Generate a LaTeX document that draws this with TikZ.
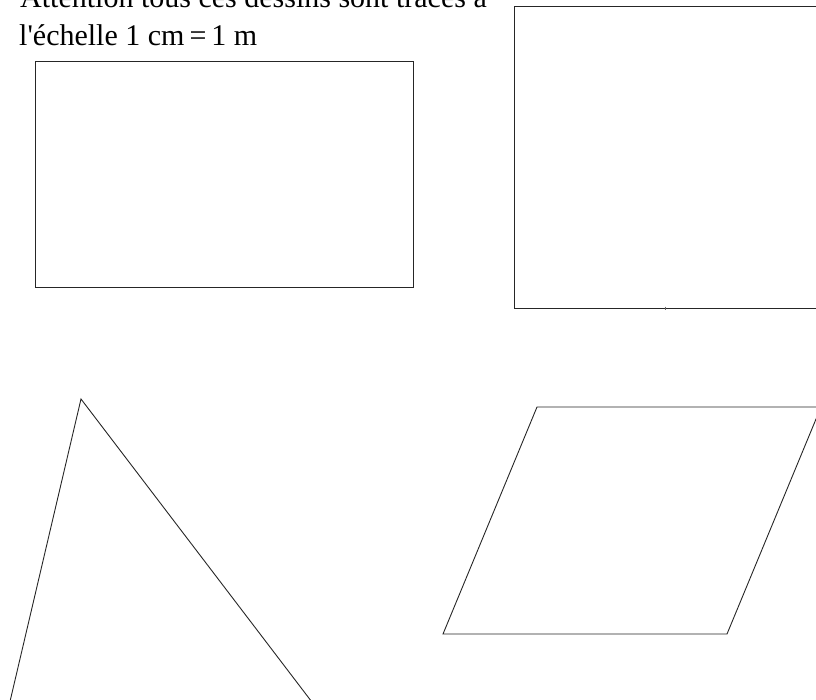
\documentclass[tikz,border=0pt]{standalone}
\usepackage{fontspec}
\setmainfont{Liberation Serif}
\begin{document}
\begin{tikzpicture}[x=1pt,y=-1pt,
  shape line/.style={draw=black!85,line width=0.9pt,line join=miter},
  label text/.style={anchor=base west,inner sep=0pt,font=\fontsize{30}{34}\selectfont}]
\useasboundingbox (0,0) rectangle (816,699);
\clip (0,0) rectangle (816,699);
\node[label text] (l1) at (20,7) {Attention tous ces dessins sont tracés à};
\node[label text] (l2) at (19,45.5) {l\textquotesingle échelle 1 cm\,=\,1 m};
% rectangle
\draw[shape line] (35,61) rectangle (413,287);
% square (cut off at right)
\draw[shape line] (830,6) -- (514,6) -- (514,308) -- (830,308);
\draw[draw=black!60,line width=0.8pt] (665,306.5) -- (665,310);
% triangle (cut off at bottom)
\draw[shape line] (8,710) -- (81,399) -- (318,710);
% parallelogram (cut off at right)
\draw[shape line] (537,407) -- (821,407) -- (727,634) -- (443,634) -- cycle;
\end{tikzpicture}
\end{document}
